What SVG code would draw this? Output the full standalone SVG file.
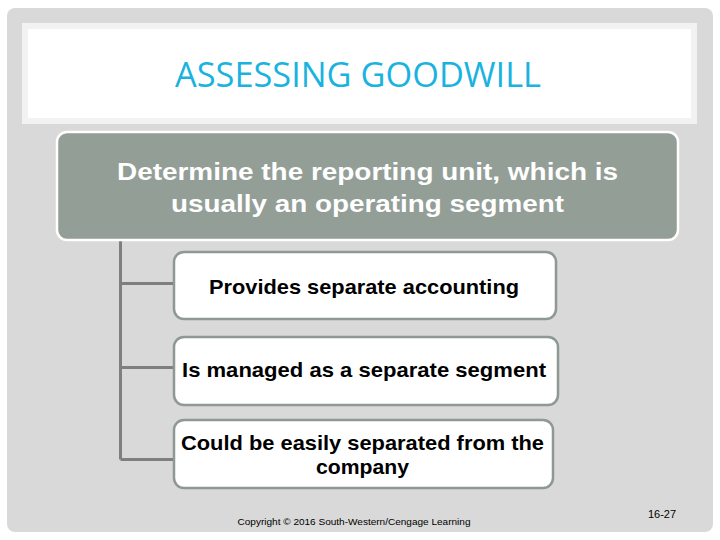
<svg xmlns="http://www.w3.org/2000/svg" width="720" height="540" viewBox="0 0 720 540">
<style>
.sub{fill:#ffffff;stroke:#8e9993;stroke-width:2.5}
.subt{font-family:"Liberation Sans",Arial,sans-serif;font-weight:bold;font-size:20.5px;fill:#000}
.conn{stroke:#7f7f7f;stroke-width:3;fill:none}
</style>
<rect x="0" y="0" width="720" height="540" fill="#ffffff"/>
<rect x="7" y="8" width="706" height="524" rx="8" fill="#d9d9d9"/>
<rect x="25" y="26" width="669" height="95" fill="#ffffff" stroke="#f2f2f2" stroke-width="6"/>
<text x="358" y="87" font-family="'Open Sans','Liberation Sans',sans-serif" font-size="35" fill="#1ab3df" text-anchor="middle" textLength="366" lengthAdjust="spacingAndGlyphs">ASSESSING GOODWILL</text>
<g id="connectors">
<path class="conn" d="M120.5 240 V459.5 M120.5 283.5 H174 M120.5 367.5 H174 M120.5 459.5 H174"/>
</g>
<g id="main">
<rect x="57" y="132" width="621" height="108" rx="10" fill="#939e97" stroke="#ffffff" stroke-width="2.5"/>
<text font-family="'Liberation Sans',Arial,sans-serif" font-weight="bold" font-size="23" fill="#ffffff"><tspan x="117" y="180" textLength="501" lengthAdjust="spacingAndGlyphs">Determine the reporting unit, which is</tspan><tspan x="171" y="212" textLength="393" lengthAdjust="spacingAndGlyphs">usually an operating segment</tspan></text>
</g>
<g id="n1">
<rect class="sub" x="174" y="252" width="382" height="67" rx="10"/>
<text class="subt" x="209" y="294" textLength="310" lengthAdjust="spacingAndGlyphs">Provides separate accounting</text>
</g>
<g id="n2">
<rect class="sub" x="174" y="337" width="384" height="68" rx="10"/>
<text class="subt" x="182" y="377" textLength="364" lengthAdjust="spacingAndGlyphs">Is managed as a separate segment</text>
</g>
<g id="n3">
<rect class="sub" x="174" y="420" width="379" height="68" rx="10"/>
<text class="subt"><tspan x="181" y="450" textLength="363" lengthAdjust="spacingAndGlyphs">Could be easily separated from the</tspan><tspan x="316" y="474" textLength="93" lengthAdjust="spacingAndGlyphs">company</tspan></text>
</g>
<text x="354" y="525" font-family="'Liberation Sans',Arial,sans-serif" font-size="9.5" fill="#000" text-anchor="middle" textLength="233" lengthAdjust="spacingAndGlyphs">Copyright © 2016 South-Western/Cengage Learning</text>
<text x="662" y="518" font-family="'Liberation Sans',Arial,sans-serif" font-size="11" fill="#000" text-anchor="middle">16-27</text>
</svg>
